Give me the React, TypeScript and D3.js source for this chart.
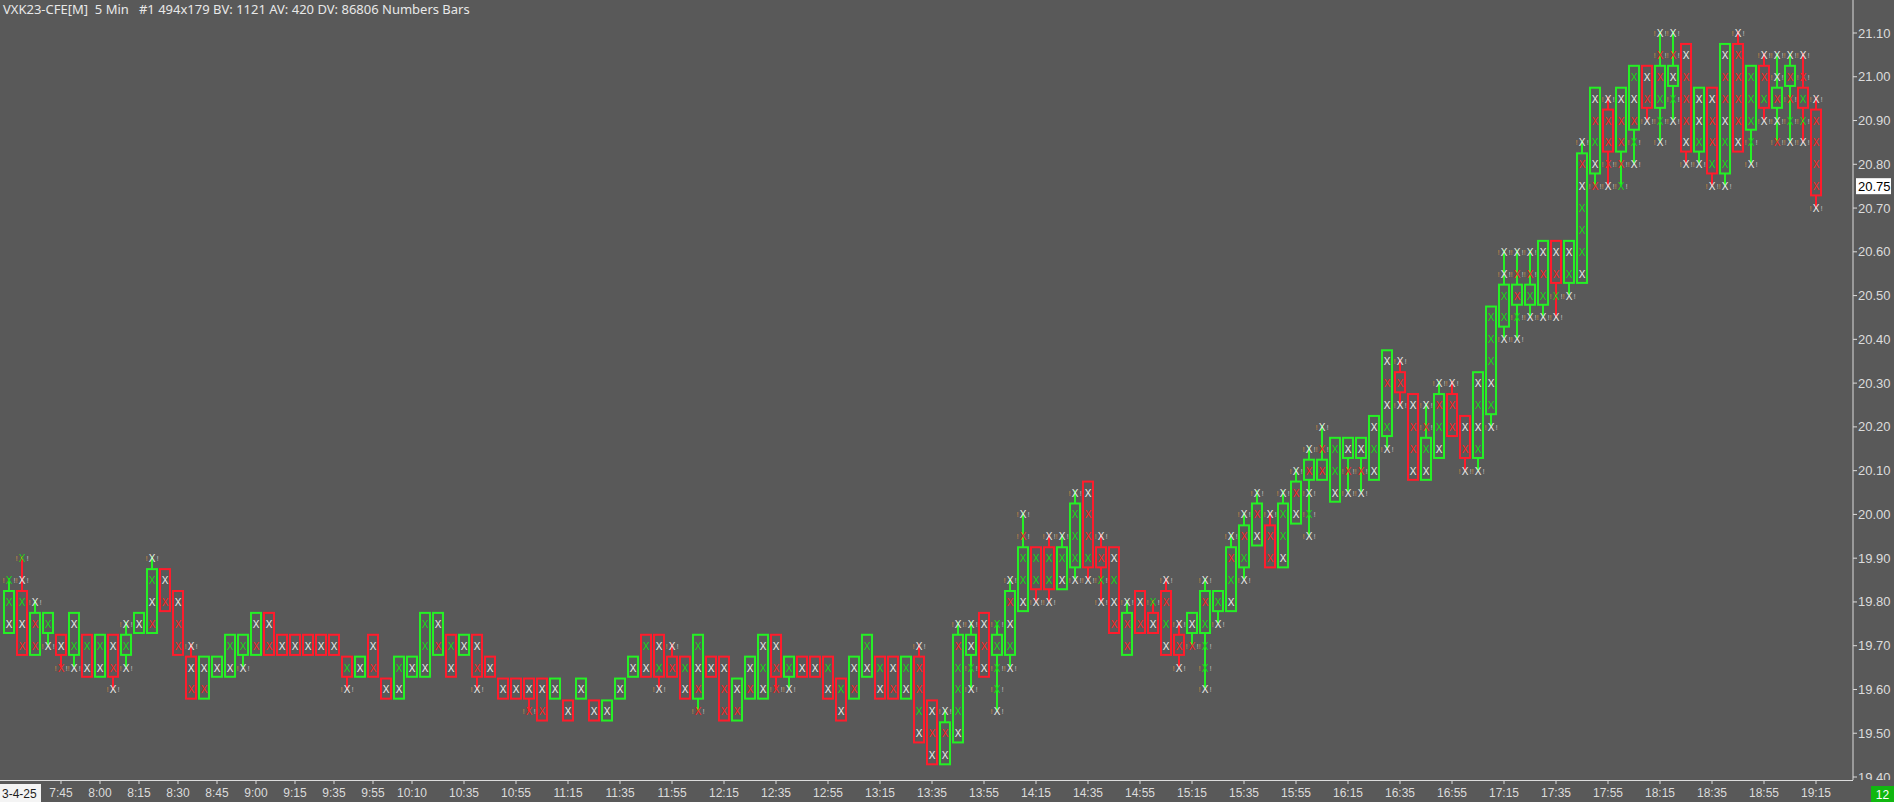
import * as d3 from "d3";
import { useEffect, useRef } from "react";

/* -----------------------------
    DATA (5 min bars, VXK23)
----------------------------- */
const opens = [
  19.75, 19.8, 19.7, 19.75, 19.7, 19.7, 19.7, 19.65, 19.7, 19.7,
  19.75, 19.75, 19.85, 19.8, 19.65, 19.6, 19.65, 19.65, 19.7, 19.7,
  19.75, 19.7, 19.7, 19.7, 19.7, 19.7, 19.65, 19.65, 19.7, 19.6,
  19.6, 19.65, 19.65, 19.7, 19.7, 19.7, 19.7, 19.65, 19.6, 19.6,
  19.6, 19.6, 19.6, 19.55, 19.6, 19.55, 19.55, 19.6, 19.65, 19.7,
  19.7, 19.65, 19.65, 19.6, 19.65, 19.65, 19.55, 19.6, 19.6, 19.7,
  19.65, 19.65, 19.65, 19.65, 19.6, 19.6, 19.65, 19.65, 19.65, 19.6,
  19.65, 19.55, 19.45, 19.5, 19.7, 19.75, 19.7, 19.7, 19.8, 19.9,
  19.9, 19.85, 19.9, 20.05, 19.9, 19.9, 19.7, 19.8, 19.75, 19.8,
  19.7, 19.75, 19.75, 19.8, 19.8, 19.9, 19.95, 19.95, 19.9, 20.0,
  20.1, 20.1, 20.05, 20.15, 20.15, 20.1, 20.2, 20.3, 20.25, 20.1,
  20.15, 20.25, 20.2, 20.15, 20.25, 20.45, 20.5, 20.5, 20.5, 20.6,
  20.55, 20.55, 20.8, 20.9, 20.85, 20.9, 21.0, 20.95, 21.0, 21.05,
  20.85, 20.95, 20.8, 21.05, 20.9, 21.0, 20.95, 21.0, 20.95, 20.9,
];

const closes = [
  19.8, 19.7, 19.75, 19.75, 19.7, 19.75, 19.65, 19.7, 19.65, 19.7,
  19.75, 19.85, 19.8, 19.7, 19.6, 19.65, 19.65, 19.7, 19.7, 19.75,
  19.7, 19.7, 19.7, 19.7, 19.7, 19.7, 19.65, 19.65, 19.65, 19.6,
  19.65, 19.65, 19.75, 19.75, 19.65, 19.7, 19.65, 19.65, 19.6, 19.6,
  19.6, 19.55, 19.6, 19.55, 19.6, 19.55, 19.55, 19.6, 19.65, 19.65,
  19.65, 19.65, 19.6, 19.7, 19.65, 19.55, 19.6, 19.65, 19.7, 19.65,
  19.65, 19.65, 19.65, 19.6, 19.55, 19.65, 19.7, 19.6, 19.6, 19.65,
  19.5, 19.45, 19.5, 19.7, 19.7, 19.65, 19.7, 19.8, 19.9, 19.85,
  19.85, 19.9, 20.0, 19.9, 19.9, 19.75, 19.75, 19.75, 19.75, 19.7,
  19.7, 19.75, 19.8, 19.8, 19.9, 19.95, 20.0, 19.9, 20.0, 20.05,
  20.1, 20.1, 20.15, 20.15, 20.15, 20.2, 20.35, 20.3, 20.1, 20.15,
  20.25, 20.2, 20.15, 20.3, 20.45, 20.5, 20.5, 20.5, 20.6, 20.55,
  20.6, 20.8, 20.95, 20.85, 20.95, 21.0, 20.95, 21.0, 21.0, 20.85,
  20.95, 20.8, 21.05, 20.85, 21.0, 20.95, 20.95, 21.0, 20.95, 20.75,
];

const highs = [
  19.85, 19.9, 19.8, 19.75, 19.7, 19.75, 19.7, 19.7, 19.7, 19.75,
  19.75, 19.9, 19.85, 19.8, 19.7, 19.65, 19.65, 19.7, 19.7, 19.75,
  19.75, 19.7, 19.7, 19.7, 19.7, 19.7, 19.65, 19.65, 19.7, 19.6,
  19.65, 19.65, 19.75, 19.75, 19.7, 19.7, 19.7, 19.65, 19.6, 19.6,
  19.6, 19.6, 19.6, 19.55, 19.6, 19.55, 19.55, 19.6, 19.65, 19.7,
  19.7, 19.7, 19.65, 19.7, 19.65, 19.65, 19.6, 19.65, 19.7, 19.7,
  19.65, 19.65, 19.65, 19.65, 19.6, 19.65, 19.7, 19.65, 19.65, 19.65,
  19.7, 19.55, 19.55, 19.75, 19.75, 19.75, 19.75, 19.85, 20.0, 19.9,
  19.95, 19.95, 20.05, 20.05, 19.95, 19.9, 19.8, 19.8, 19.8, 19.85,
  19.75, 19.75, 19.85, 19.8, 19.95, 20.0, 20.05, 20.0, 20.05, 20.1,
  20.15, 20.2, 20.15, 20.15, 20.15, 20.2, 20.35, 20.35, 20.25, 20.25,
  20.3, 20.3, 20.2, 20.3, 20.45, 20.6, 20.6, 20.6, 20.6, 20.6,
  20.6, 20.85, 20.95, 20.95, 20.95, 21.0, 21.0, 21.1, 21.1, 21.05,
  20.95, 20.95, 21.05, 21.1, 21.0, 21.05, 21.05, 21.05, 21.05, 20.95,
];

const lows = [
  19.75, 19.7, 19.7, 19.7, 19.65, 19.65, 19.65, 19.65, 19.6, 19.65,
  19.75, 19.75, 19.8, 19.7, 19.6, 19.6, 19.65, 19.65, 19.65, 19.7,
  19.7, 19.7, 19.7, 19.7, 19.7, 19.7, 19.6, 19.65, 19.65, 19.6,
  19.6, 19.65, 19.65, 19.7, 19.65, 19.7, 19.6, 19.65, 19.6, 19.6,
  19.55, 19.55, 19.6, 19.55, 19.6, 19.55, 19.55, 19.6, 19.65, 19.65,
  19.6, 19.65, 19.6, 19.55, 19.65, 19.55, 19.55, 19.6, 19.6, 19.6,
  19.6, 19.65, 19.65, 19.6, 19.55, 19.6, 19.65, 19.6, 19.6, 19.6,
  19.5, 19.45, 19.45, 19.5, 19.6, 19.65, 19.55, 19.65, 19.8, 19.8,
  19.8, 19.85, 19.85, 19.85, 19.8, 19.75, 19.7, 19.75, 19.75, 19.7,
  19.65, 19.7, 19.6, 19.75, 19.8, 19.85, 19.95, 19.9, 19.9, 20.0,
  19.95, 20.1, 20.05, 20.05, 20.05, 20.1, 20.15, 20.25, 20.1, 20.1,
  20.15, 20.2, 20.1, 20.1, 20.2, 20.4, 20.4, 20.45, 20.45, 20.45,
  20.5, 20.55, 20.75, 20.75, 20.75, 20.8, 20.9, 20.85, 20.9, 20.8,
  20.8, 20.75, 20.75, 20.85, 20.8, 20.9, 20.85, 20.85, 20.85, 20.7,
];

// g = up bar, r = down bar
const barColors =
  "grggrgrgrg" + "ggrrrggggg" + "rrrrrrrgrr" + "ggggrgrrrr" + "rrgrgrgggr" +
  "rrrgrrgggr" + "grrrrggrrg" + "rrgggrgggr" + "rggrrrgrrr" + "rggggggrgg" +
  "gggggggrrg" + "grrggggggr" + "gggrggrggr" + "grgrgrggrr";

// colour of the number cell at each tick, low to high (w white, r red, g green)
const levelColors = [
  "wgg", "rwgwg", "rrw", "wg", "rw", "wgw", "wg", "wg", "wrw", "wgw",
  "w", "rwgw", "rw", "rrw", "rww", "rw", "w", "wg", "wg", "rw",
  "rw", "w", "w", "w", "w", "w", "wg", "w", "rw", "w",
  "wg", "w", "wgg", "rw", "wg", "w", "wrw", "w", "w", "w",
  "rw", "rw", "w", "w", "w", "w", "w", "w", "w", "wg",
  "wgw", "rw", "wg", "rrwg", "w", "rrw", "rw", "rw", "wgw", "rrw",
  "wg", "w", "w", "wg", "wg", "rw", "wg", "wg", "rw", "wg",
  "wgrrw", "wrw", "wrw", "wgggrw", "wgww", "wrw", "wgggg", "wgwrw", "wggrw", "wgg",
  "wggw", "wgw", "wgggw", "wgrrw", "wgrw", "rwgw", "rrw", "rw", "wg", "wgrw",
  "wrw", "rw", "wgggrw", "wg", "wgrw", "wgrw", "wrw", "rrw", "wggw", "wrw",
  "wgwrw", "rrw", "wgg", "wrw", "wrw", "wgw", "wgwrw", "wrw", "wrrw", "wgrw",
  "wgrw", "rrw", "wrw", "wgwgw", "wgwggg", "wggww", "wgrrw", "wgrw", "wgrw", "wgrw",
  "wgw", "wgggwrw", "rwgrw", "wrrrw", "grrrw", "wgrwg", "wrw", "wggrrw", "wgwrw", "wwrrrw",
  "wgww", "wgrrw", "wggwrrw", "wrrrrw", "wgggg", "wgrw", "rwrww", "wgrrw", "wggrw", "wrrrrw",
];

// bar number (1-based) under each time label
const timeTickBars = [
  5, 8, 11, 14, 17, 20, 23, 26, 29, 32, 36, 40, 44, 48, 52, 56, 60, 64, 68,
  72, 76, 80, 84, 88, 92, 96, 100, 104, 108, 112, 116, 120, 124, 128, 132,
  136, 140,
];
const timeTickLabels = [
  "7:45", "8:00", "8:15", "8:30", "8:45", "9:00", "9:15", "9:35", "9:55",
  "10:10", "10:35", "10:55", "11:15", "11:35", "11:55", "12:15", "12:35",
  "12:55", "13:15", "13:35", "13:55", "14:15", "14:35", "14:55", "15:15",
  "15:35", "15:55", "16:15", "16:35", "16:55", "17:15", "17:35", "17:55",
  "18:15", "18:35", "18:55", "19:15",
];

const priceTicks = [
  19.4, 19.5, 19.6, 19.7, 19.8, 19.9, 20.0, 20.1, 20.2, 20.3, 20.4, 20.5,
  20.6, 20.7, 20.8, 20.9, 21.0, 21.1,
];

const lastPrice = 20.75;
const dateLabel = "3-4-25";
const barCountLabel = "12";
const header =
  "VXK23-CFE[M]  5 Min   #1 494x179 BV: 1121 AV: 420 DV: 86806 Numbers Bars";

export default function App() {
  const ref = useRef<SVGSVGElement | null>(null);

  useEffect(() => {
    if (!ref.current) return;
    const svg = d3.select(ref.current);
    svg.selectAll("*").remove();

    const width = 1894;
    const height = 802;
    const plotRight = 1853;
    const plotBottom = 780;
    const tick = 0.05;

    const BG = "#595959";
    const UP = "#25f025";
    const DOWN = "#ff1c2c";
    const AXIS = "#dcdcdc";
    const FONT = "'Liberation Sans', Arial, sans-serif";
    const cellColor: Record<string, string> = {
      w: "#ececec",
      r: "#ff2222",
      g: "#14dc14",
    };

    svg.attr("width", width).attr("height", height);
    svg.append("rect").attr("width", width).attr("height", height).attr("fill", BG);

    /* -----------------------------
        SCALES
    ----------------------------- */
    const x = d3.scaleLinear().domain([0, opens.length - 1]).range([9, 1816]);
    const y = d3.scaleLinear().domain([19.4, 21.1]).range([777, 33]);
    const step = y(19.4) - y(19.4 + tick);

    const defs = svg.append("defs");
    defs
      .append("clipPath")
      .attr("id", "plot-clip")
      .append("rect")
      .attr("width", plotRight)
      .attr("height", plotBottom);
    defs
      .append("clipPath")
      .attr("id", "axis-clip")
      .append("rect")
      .attr("x", plotRight)
      .attr("width", width - plotRight)
      .attr("height", plotBottom);

    /* -----------------------------
        HEADER
    ----------------------------- */
    svg
      .append("text")
      .attr("x", 3)
      .attr("y", 14)
      .attr("fill", "#e8e8e8")
      .style("font-family", "'Noto Sans', sans-serif")
      .style("font-size", "13px")
      .style("white-space", "pre")
      .text(header);

    /* -----------------------------
        BARS
    ----------------------------- */
    const plot = svg.append("g").attr("clip-path", "url(#plot-clip)");

    opens.forEach((o, i) => {
      const c = closes[i];
      const hi = highs[i];
      const lo = lows[i];
      const cx = x(i);
      const col = barColors[i] === "g" ? UP : DOWN;
      const bodyHi = Math.max(o, c);
      const bodyLo = Math.min(o, c);
      const top = y(bodyHi) - step * 0.5;
      const bot = y(bodyLo) + step * 0.42;
      const g = plot.append("g");

      if (y(hi) < top) {
        g.append("line")
          .attr("x1", cx).attr("x2", cx)
          .attr("y1", y(hi) - 2).attr("y2", top)
          .attr("stroke", col).attr("stroke-width", 2);
      }
      if (y(lo) > bot) {
        g.append("line")
          .attr("x1", cx).attr("x2", cx)
          .attr("y1", bot).attr("y2", y(lo))
          .attr("stroke", col).attr("stroke-width", 2);
      }
      g.append("rect")
        .attr("x", cx - 5)
        .attr("y", top)
        .attr("width", 10)
        .attr("height", bot - top)
        .attr("fill", "none")
        .attr("stroke", col)
        .attr("stroke-width", 2);

      const n = Math.round((hi - lo) / tick) + 1;
      const codes = levelColors[i] || "";
      for (let k = 0; k < n; k++) {
        const p = lo + k * tick;
        const py = y(p) + 0.5;
        const outside = p > bodyHi + 1e-6 || p < bodyLo - 1e-6;
        g.append("text")
          .attr("x", cx)
          .attr("y", py)
          .attr("text-anchor", "middle")
          .attr("dominant-baseline", "central")
          .attr("fill", cellColor[codes[k] || "w"])
          .style("font-family", FONT)
          .style("font-size", "10px")
          .text("X");
        if (outside) {
          g.append("text")
            .attr("x", cx - 5.5)
            .attr("y", py)
            .attr("text-anchor", "middle")
            .attr("dominant-baseline", "central")
            .attr("fill", "#e0913f")
            .attr("opacity", 0.8)
            .style("font-family", FONT)
            .style("font-size", "8px")
            .text("!");
          g.append("text")
            .attr("x", cx + 5.5)
            .attr("y", py)
            .attr("text-anchor", "middle")
            .attr("dominant-baseline", "central")
            .attr("fill", "#d8d8d8")
            .attr("opacity", 0.75)
            .style("font-family", FONT)
            .style("font-size", "8px")
            .text("!");
        }
      }
    });

    /* -----------------------------
        AXES
    ----------------------------- */
    svg
      .append("line")
      .attr("x1", plotRight).attr("x2", plotRight)
      .attr("y1", 0).attr("y2", plotBottom)
      .attr("stroke", AXIS).attr("stroke-width", 1);
    svg
      .append("line")
      .attr("x1", 0).attr("x2", plotRight)
      .attr("y1", plotBottom + 0.5).attr("y2", plotBottom + 0.5)
      .attr("stroke", AXIS).attr("stroke-width", 1);

    const yAxis = svg.append("g").attr("clip-path", "url(#axis-clip)");
    priceTicks.forEach((p) => {
      yAxis
        .append("line")
        .attr("x1", plotRight).attr("x2", plotRight + 4)
        .attr("y1", y(p)).attr("y2", y(p))
        .attr("stroke", AXIS);
      yAxis
        .append("text")
        .attr("x", plotRight + 5)
        .attr("y", y(p))
        .attr("dominant-baseline", "central")
        .attr("fill", AXIS)
        .style("font-family", FONT)
        .style("font-size", "13px")
        .text(p.toFixed(2));
    });

    // last price marker
    yAxis
      .append("rect")
      .attr("x", plotRight + 3)
      .attr("y", y(lastPrice) - 8)
      .attr("width", 35)
      .attr("height", 16)
      .attr("fill", "#ffffff");
    yAxis
      .append("text")
      .attr("x", plotRight + 5)
      .attr("y", y(lastPrice))
      .attr("dominant-baseline", "central")
      .attr("fill", "#000")
      .style("font-family", FONT)
      .style("font-size", "13px")
      .text(lastPrice.toFixed(2));

    // time axis
    timeTickBars.forEach((b, j) => {
      const tx = x(b - 1);
      svg
        .append("line")
        .attr("x1", tx).attr("x2", tx)
        .attr("y1", plotBottom).attr("y2", plotBottom + 4)
        .attr("stroke", AXIS);
      svg
        .append("text")
        .attr("x", tx)
        .attr("y", 797)
        .attr("text-anchor", "middle")
        .attr("fill", AXIS)
        .style("font-family", FONT)
        .style("font-size", "12px")
        .text(timeTickLabels[j]);
    });

    svg
      .append("rect")
      .attr("x", 0)
      .attr("y", 784)
      .attr("width", 41)
      .attr("height", 18)
      .attr("fill", "#f4f4f4");
    svg
      .append("text")
      .attr("x", 2)
      .attr("y", 798)
      .attr("fill", "#1e1e1e")
      .style("font-family", FONT)
      .style("font-size", "12px")
      .text(dateLabel);

    svg
      .append("rect")
      .attr("x", 1871)
      .attr("y", 786)
      .attr("width", 23)
      .attr("height", 16)
      .attr("fill", "#10b810");
    svg
      .append("text")
      .attr("x", 1882.5)
      .attr("y", 799)
      .attr("text-anchor", "middle")
      .attr("fill", "#ffffff")
      .style("font-family", FONT)
      .style("font-size", "12px")
      .text(barCountLabel);
  }, []);

  return (
    <>
      <style>{"body{margin:0;background:#595959;overflow:hidden}"}</style>
      <svg ref={ref} style={{ display: "block" }} />
    </>
  );
}
